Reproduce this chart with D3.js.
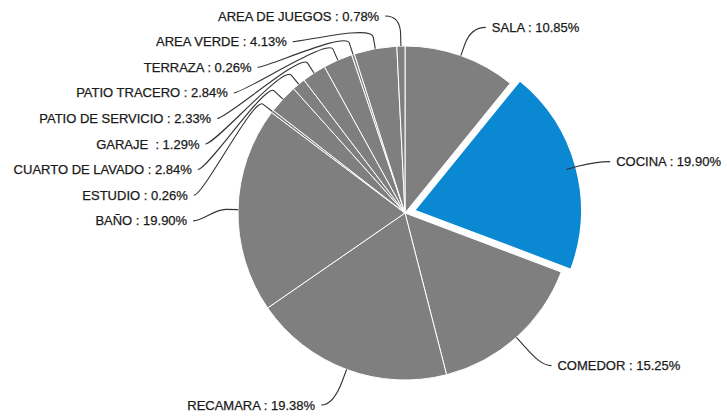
<!DOCTYPE html>
<html>
<head>
<meta charset="utf-8">
<script src="https://cdn.jsdelivr.net/npm/d3@7"></script>
<style>
  body { margin: 0; background: #fff; }
  svg text {
    font-family: "Liberation Sans", Arial, sans-serif;
    font-size: 13px;
    fill: #1a1a1a;
    stroke: #1a1a1a;
    stroke-width: 0.25px;
    white-space: pre;
  }
</style>
</head>
<body>
<div id="chart"></div>
<script>
// data (clockwise from 12 o'clock)
const rooms = ["SALA", "COCINA", "COMEDOR", "RECAMARA", "BAÑO", "ESTUDIO",
  "CUARTO DE LAVADO", "GARAJE ", "PATIO DE SERVICIO", "PATIO TRACERO",
  "TERRAZA", "AREA VERDE", "AREA DE JUEGOS"];
const shares = [10.85, 19.90, 15.25, 19.38, 19.90, 0.26, 2.84, 1.29, 2.33, 2.84, 0.26, 4.13, 0.78];
const highlighted = ["COCINA"];

//size
const width = 727, height = 417;
const cx = 405, cy = 213, radius = 167;
const explode = 10, labelRadius = 197, lineGap = 25.6, textPad = 21;
const yMin = 14 - cy, yMax = 408 - cy;

const data = rooms.map((name, i) => ({ name, value: shares[i] }));
const arcs = d3.pie().sort(null).value((d) => d.value)(data);
const arc = d3.arc().innerRadius(0).outerRadius(radius);

arcs.forEach((d) => {
  d.mid = (d.startAngle + d.endAngle) / 2;
  d.ux = Math.sin(d.mid);
  d.uy = -Math.cos(d.mid);
  d.off = highlighted.includes(d.data.name) ? explode : 0;
  d.side = d.ux >= 0 ? 1 : -1;
  d.x0 = labelRadius * d.ux;
  // lower half labels sit a little further out
  d.y0 = labelRadius * d.uy + (d.uy > 0 ? 8 * d.uy : 0);
});

//label layout: push labels apart on each side
[1, -1].forEach((side) => {
  const list = arcs.filter((d) => d.side === side).sort((a, b) => a.y0 - b.y0);
  let prev = -Infinity;
  list.forEach((d) => {
    d.y = Math.max(d.y0, prev + lineGap, yMin);
    prev = d.y;
  });
  let next = Infinity;
  list.slice().reverse().forEach((d) => {
    d.y = Math.min(d.y, next - lineGap, yMax);
    next = d.y;
  });
  list.forEach((d) => {
    d.x = Math.abs(d.y - d.y0) > 0.5
      ? side * Math.sqrt(Math.max(0, labelRadius * labelRadius - d.y * d.y))
      : d.x0;
  });
});

//create element
const svg = d3.select("#chart").append("svg")
  .attr("width", width)
  .attr("height", height);
const g = svg.append("g").attr("transform", `translate(${cx},${cy})`);

//slices
g.selectAll("path.slice")
  .data(arcs)
  .join("path")
  .attr("class", "slice")
  .attr("transform", (d) => `translate(${d.ux * d.off},${d.uy * d.off})`)
  .attr("fill", (d) => (d.off ? "#0a88d2" : "#7f7f7f"))
  .attr("stroke", "#fff")
  .attr("stroke-width", (d) => (d.off ? 1.5 : 1))
  .attr("stroke-linejoin", "round")
  .attr("d", arc);

//leader lines
g.selectAll("path.leader")
  .data(arcs)
  .join("path")
  .attr("class", "leader")
  .attr("fill", "none")
  .attr("stroke", "#333")
  .attr("stroke-width", 1.1)
  .attr("d", (d) => {
    const e = [d.ux * radius, d.uy * radius];
    const p2 = [d.ux * (radius + 12), d.uy * (radius + 12)];
    const c2 = [d.ux * (radius + 24), d.uy * (radius + 24)];
    const end = [d.x + d.side * (textPad - 6), d.y];
    const c1 = [end[0] - d.side * 10, end[1]];
    return `M${e}L${p2}C${c2} ${c1} ${end}`;
  });

//labels
g.selectAll("text.label")
  .data(arcs)
  .join("text")
  .attr("class", "label")
  .attr("x", (d) => d.x + d.side * textPad)
  .attr("y", (d) => d.y)
  .attr("dy", "0.35em")
  .attr("text-anchor", (d) => (d.side > 0 ? "start" : "end"))
  .text((d) => `${d.data.name} : ${d3.format(".2f")(d.data.value)}%`);
</script>
</body>
</html>
